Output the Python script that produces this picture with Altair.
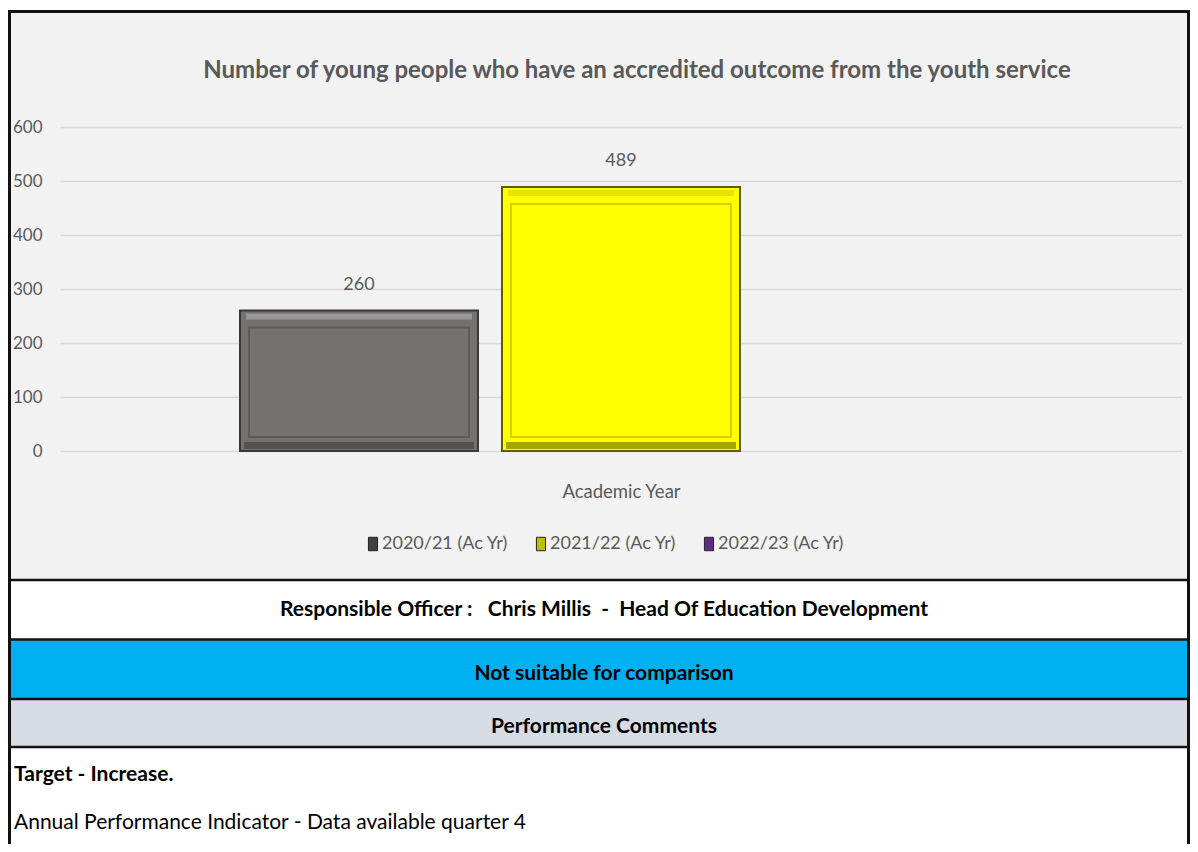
import altair as alt
import pandas as pd

# ---------------- data ----------------
title_text = "Number of young people who have an accredited outcome from the youth service"
series = ["2020/21 (Ac Yr)", "2021/22 (Ac Yr)", "2022/23 (Ac Yr)"]
values = [260, 489]          # 2022/23 has no value yet
y_ticks = [0, 100, 200, 300, 400, 500, 600]
x_title = "Academic Year"
officer = "Responsible Officer :\u00a0\u00a0 Chris Millis\u00a0 -\u00a0 Head Of Education Development"
comparison = "Not suitable for comparison"
comments_head = "Performance Comments"
comment1 = "Target - Increase."
comment2 = "Annual Performance Indicator - Data available quarter 4"

# ---------------- styles ----------------
FONT = "Lato"
GREY_TXT = "#595959"
bar_style = {
    "2020/21 (Ac Yr)": {"fill": "#767171", "edge": "#3A3838", "inner": "#5E5A5A",
                        "top": "#9A9696", "bottom": "#555151"},
    "2021/22 (Ac Yr)": {"fill": "#FFFF00", "edge": "#5E5E00", "inner": "#D2D200",
                        "top": "#E4E400", "bottom": "#A6A600"},
}
legend_colors = ["#404040", "#BFBF00", "#5B2C8A"]

df = pd.DataFrame({"series": series[:2], "value": values})
one = pd.DataFrame({"k": [0]})

W, H = 1122, 324
PAD = {"left": 52, "top": 119, "right": 8, "bottom": 393}
XR = W + PAD["right"]          # right edge of canvas in plot coordinates
YB = H + PAD["bottom"]         # bottom edge of canvas in plot coordinates

x_enc = alt.X(
    "series:N",
    scale=alt.Scale(domain=series, paddingInner=0.0916, paddingOuter=0.687),
    axis=alt.Axis(labels=False, ticks=False, domain=False, grid=False, title=x_title,
                  titleFont=FONT, titleFontSize=18.5, titleFontWeight="normal",
                  titleColor=GREY_TXT, titlePadding=31),
)
y_enc = alt.Y(
    "value:Q",
    scale=alt.Scale(domain=[0, 600]),
    axis=alt.Axis(values=y_ticks, title=None, domain=False, ticks=False, labelPadding=18,
                  labelFont=FONT, labelFontSize=17, labelColor=GREY_TXT,
                  gridColor="#D9D9D9", gridWidth=1.5),
)


def rect(x1, x2, y1, y2, color):
    return alt.Chart(one).mark_rect(color=color).encode(
        x=alt.value(x1), x2=alt.value(x2), y=alt.value(y1), y2=alt.value(y2))


def hline(y, x1, x2, w, color="#111111"):
    return alt.Chart(one).mark_rule(color=color, strokeWidth=w).encode(
        x=alt.value(x1), x2=alt.value(x2), y=alt.value(y))


def vline(x, y1, y2, w, color="#111111"):
    return alt.Chart(one).mark_rule(color=color, strokeWidth=w).encode(
        x=alt.value(x), y=alt.value(y1), y2=alt.value(y2))


def label(s, x, y, size=21, weight="bold", color="black", align="center"):
    return alt.Chart(one).mark_text(text=s, font=FONT, fontSize=size, fontWeight=weight,
                                    color=color, align=align, baseline="middle").encode(
        x=alt.value(x), y=alt.value(y))


L = -PAD["left"]
T = -PAD["top"]
# decorations (table rows + frame)
decor = [
    rect(L, XR, T, T + 2, "white"),
    rect(L, XR, 453, 512, "white"),
    rect(L, XR, 513, 572, "#00B0F0"),
    rect(L, XR, 572, 620, "#D6DCE4"),
    rect(L, XR, 620, YB, "white"),
    hline(453, L, XR, 2.5),
    hline(512.5, L, XR, 2.5),
    hline(572, L, XR, 2.5),
    hline(620, L, XR, 2.5),
    vline(L + 1.5, T + 2, YB, 3),
    vline(XR - 1.5, T + 2, YB, 3),
    hline(T + 3.5, L, XR, 3),
]

texts = [
    label(title_text, 577, -56, size=24, color=GREY_TXT),
    label(officer, 544, 483),
    label(comparison, 544, 547),
    label(comments_head, 544, 600),
    label(comment1, -46, 648, align="left"),
    label(comment2, -46, 696, weight="normal", align="left"),
]

# hidden squares that carry the legend
legend_layer = alt.Chart(df).mark_square(size=1, opacity=1).encode(
    x=x_enc, y=y_enc,
    color=alt.Color("series:N",
                    scale=alt.Scale(domain=series, range=legend_colors),
                    legend=alt.Legend(orient="none", legendX=304, legendY=408,
                                      direction="horizontal", title=None,
                                      labelFont=FONT, labelFontSize=18, labelColor=GREY_TXT,
                                      symbolType="M-0.68,-1L0.68,-1L0.68,1L-0.68,1Z",
                                      symbolSize=180, symbolStrokeColor="#262626",
                                      symbolStrokeWidth=1, columnPadding=23, labelOffset=0)),
)

bars = []
for s, st in bar_style.items():
    base = alt.Chart(df).transform_filter(alt.datum.series == s)
    bars.append(base.mark_bar(color=st["fill"], stroke=st["edge"], strokeWidth=2).encode(
        x=x_enc, y=y_enc, y2=alt.datum(0)))
    bars.append(base.mark_bar(color=st["top"], size=226, yOffset=3, y2Offset=9).encode(
        x=x_enc, y=y_enc, y2="value:Q"))
    bars.append(base.mark_bar(color=st["bottom"], size=230, yOffset=-9, y2Offset=-2).encode(
        x=x_enc, y=alt.datum(0), y2=alt.datum(0)))
    bars.append(base.mark_bar(fillOpacity=0, stroke=st["inner"], strokeWidth=2, size=220,
                              yOffset=17, y2Offset=-14).encode(
        x=x_enc, y=y_enc, y2=alt.datum(0)))

value_labels = alt.Chart(df).mark_text(font=FONT, fontSize=18, color=GREY_TXT, dy=-26,
                                       baseline="middle").encode(
    x=x_enc, y=y_enc, text="value:Q")

chart = alt.layer(*decor, legend_layer, *bars, value_labels, *texts).properties(
    width=W, height=H, padding=PAD, background="#F2F2F2",
    autosize=alt.AutoSizeParams(type="none"),
).configure_view(stroke=None)

chart.save("out.html", embed_options={"renderer": "svg", "actions": False})
